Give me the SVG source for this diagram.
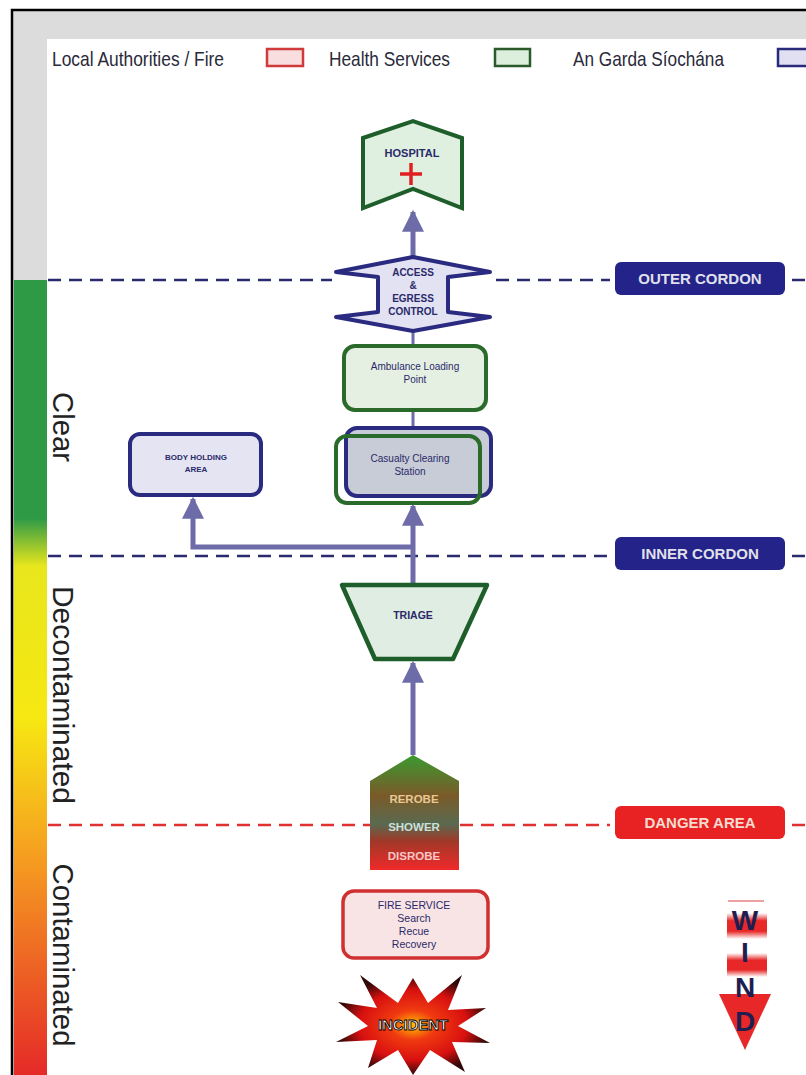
<svg xmlns="http://www.w3.org/2000/svg" width="806" height="1075" viewBox="0 0 806 1075">
<defs>
<style>
.t{font-family:"Liberation Sans",Arial,sans-serif;fill:#2a2a6a;font-weight:bold;text-anchor:middle}
.n{font-weight:normal}
.leg{font-family:"Liberation Sans",Arial,sans-serif;fill:#2a2a3a;font-size:21px}
.zone{font-family:"Liberation Sans",Arial,sans-serif;fill:#222;font-size:29px}
.lbl{font-family:"Liberation Sans",Arial,sans-serif;font-weight:bold;font-size:15px;text-anchor:middle}
.conn{stroke:#6d6ca8;stroke-width:5;fill:none}
.dash{stroke-width:2.5;stroke-dasharray:13 8;fill:none}
</style>
<marker id="ah" viewBox="0 0 10 10" refX="9" refY="5" markerWidth="4.4" markerHeight="4.4" orient="auto" markerUnits="strokeWidth">
<path d="M0,0 L10,5 L0,10 z" fill="#6d6ca8"/>
</marker>
<linearGradient id="bar" x1="0" y1="0" x2="0" y2="1">
<stop offset="0" stop-color="#2e9a46"/>
<stop offset="0.30" stop-color="#2e9a46"/>
<stop offset="0.36" stop-color="#e8e61c"/>
<stop offset="0.55" stop-color="#f6e812"/>
<stop offset="0.72" stop-color="#f6a020"/>
<stop offset="1" stop-color="#e52a28"/>
</linearGradient>
<linearGradient id="decon" x1="0" y1="0" x2="0" y2="1">
<stop offset="0" stop-color="#3a9a30"/>
<stop offset="0.35" stop-color="#7a5a28"/>
<stop offset="0.6" stop-color="#5a6a50"/>
<stop offset="0.75" stop-color="#a03828"/>
<stop offset="1" stop-color="#f02a2a"/>
</linearGradient>
<radialGradient id="burst" cx="0.5" cy="0.5" r="0.5">
<stop offset="0" stop-color="#ffc000"/>
<stop offset="0.3" stop-color="#f03a10"/>
<stop offset="0.7" stop-color="#d81010"/>
<stop offset="1" stop-color="#300808"/>
</radialGradient>
<linearGradient id="windbar" x1="0" y1="0" x2="0" y2="1">
<stop offset="0" stop-color="#ffffff"/>
<stop offset="0.3" stop-color="#e82828"/>
<stop offset="0.7" stop-color="#e82828"/>
<stop offset="1" stop-color="#ffffff"/>
</linearGradient>
</defs>

<!-- background / frame -->
<rect x="0" y="0" width="806" height="1075" fill="#ffffff"/>
<rect x="13" y="11" width="793" height="1064" fill="#dcdcdc"/>
<rect x="47" y="39" width="759" height="1036" fill="#ffffff"/>
<path d="M12,1075 V10 H806" stroke="#000" stroke-width="2.5" fill="none"/>
<rect x="14" y="280" width="33" height="795" fill="url(#bar)"/>

<!-- zone labels -->
<g id="zones">
<text class="zone" transform="translate(53,427) rotate(90)" text-anchor="middle" textLength="70" lengthAdjust="spacingAndGlyphs">Clear</text>
<text class="zone" transform="translate(53,695) rotate(90)" text-anchor="middle" textLength="218" lengthAdjust="spacingAndGlyphs">Decontaminated</text>
<text class="zone" transform="translate(53,955) rotate(90)" text-anchor="middle" textLength="183" lengthAdjust="spacingAndGlyphs">Contaminated</text>
</g>

<!-- legend -->
<g id="legend">
<text class="leg" x="52" y="66" textLength="172" lengthAdjust="spacingAndGlyphs">Local Authorities / Fire</text>
<rect x="267" y="49" width="36" height="17" fill="#f8dede" stroke="#d03a3a" stroke-width="2.5"/>
<text class="leg" x="329" y="66" textLength="121" lengthAdjust="spacingAndGlyphs">Health Services</text>
<rect x="495" y="49" width="35" height="17" fill="#dcefdc" stroke="#2a5a2a" stroke-width="2.5"/>
<text class="leg" x="573" y="66" textLength="151" lengthAdjust="spacingAndGlyphs">An Garda Síochána</text>
<rect x="778" y="49" width="40" height="17" fill="#e0e0f2" stroke="#2a2a7a" stroke-width="2.5"/>
</g>

<!-- cordon lines -->
<g id="cordons">
<path class="dash" stroke="#2a2a6e" d="M48,280 H332 M496,280 H610 M792,280 H806"/>
<path class="dash" stroke="#2a2a6e" d="M48,556 H610 M792,556 H806"/>
<path class="dash" stroke="#e03030" d="M48,825 H370 M460,825 H610 M792,825 H806"/>
</g>
<g id="outer-cordon">
<rect x="615" y="262" width="170" height="33" rx="6" fill="#23238a"/>
<text class="lbl" x="700" y="284" fill="#e0e0ea">OUTER CORDON</text>
</g>
<g id="inner-cordon">
<rect x="615" y="537" width="170" height="33" rx="6" fill="#23238a"/>
<text class="lbl" x="700" y="559" fill="#e0e0ea">INNER CORDON</text>
</g>
<g id="danger-area">
<rect x="615" y="806" width="170" height="33" rx="6" fill="#e82222"/>
<text class="lbl" x="700" y="828" fill="#f4dcd0">DANGER AREA</text>
</g>

<!-- connectors -->
<g id="connectors">
<line class="conn" x1="413" y1="258" x2="413" y2="212" marker-end="url(#ah)"/>
<line x1="413" y1="330" x2="413" y2="346" stroke="#6d6ca8" stroke-width="3"/>
<line x1="413" y1="410" x2="413" y2="428" stroke="#6d6ca8" stroke-width="3"/>
<line class="conn" x1="413" y1="585" x2="413" y2="506" marker-end="url(#ah)"/>
<polyline class="conn" points="413,547 193,547 193,499" marker-end="url(#ah)"/>
<line class="conn" x1="413" y1="755" x2="413" y2="663" marker-end="url(#ah)"/>
</g>

<!-- nodes -->
<g id="hospital">
<polygon points="363,138 413,121 462,138 462,208 413,189 363,208" fill="#dff0e0" stroke="#1e5e2a" stroke-width="4"/>
<text class="t" x="412" y="157" font-size="11">HOSPITAL</text>
<path d="M400,174 H422 M411,163 V185" stroke="#e02020" stroke-width="3.5"/>
</g>

<g id="access-control">
<polygon points="413,257 490,272 448,277 448,312 490,317 413,331 336,317 378,312 378,277 336,272" fill="#e2e2f2" stroke="#2a2a80" stroke-width="4" stroke-linejoin="round"/>
<text class="t" x="413" y="276" font-size="10">ACCESS</text>
<text class="t" x="413" y="289" font-size="10">&amp;</text>
<text class="t" x="413" y="302" font-size="10">EGRESS</text>
<text class="t" x="413" y="315" font-size="10">CONTROL</text>
</g>

<g id="ambulance-loading">
<rect x="344" y="346" width="142" height="64" rx="11" fill="#e5f0e3" stroke="#2a6a2a" stroke-width="4"/>
<text class="t n" x="415" y="370" font-size="10">Ambulance Loading</text>
<text class="t n" x="415" y="383" font-size="10">Point</text>
</g>

<g id="casualty-clearing">
<rect x="346" y="428" width="145" height="68" rx="11" fill="#c8ccd6" stroke="#2a2a80" stroke-width="4"/>
<rect x="336" y="436" width="144" height="67" rx="11" fill="none" stroke="#2a6a2a" stroke-width="4"/>
<text class="t n" x="410" y="462" font-size="10">Casualty Clearing</text>
<text class="t n" x="410" y="475" font-size="10">Station</text>
</g>

<g id="body-holding">
<rect x="130" y="434" width="131" height="61" rx="10" fill="#e4e4f2" stroke="#2a2a80" stroke-width="4"/>
<text class="t" x="196" y="460" font-size="8">BODY HOLDING</text>
<text class="t" x="196" y="472" font-size="8">AREA</text>
</g>

<g id="triage">
<polygon points="342,585 487,585 453,659 375,659" fill="#e0ede3" stroke="#1e5e2a" stroke-width="4.5" stroke-linejoin="round"/>
<text class="t" x="413" y="619" font-size="10.5">TRIAGE</text>
</g>

<g id="decontamination">
<polygon points="413,755 459,781 459,870 370,870 370,781" fill="url(#decon)"/>
<text class="t" x="414" y="803" font-size="11.5" style="fill:#e8c890">REROBE</text>
<text class="t" x="414" y="831" font-size="11.5" style="fill:#c8e0dc">SHOWER</text>
<text class="t" x="414" y="860" font-size="11.5" style="fill:#f8c8c8">DISROBE</text>
</g>

<g id="fire-service">
<rect x="343" y="891" width="145" height="67" rx="11" fill="#f8e4e4" stroke="#d03030" stroke-width="3.5"/>
<text class="t n" x="414" y="909" font-size="10.5">FIRE SERVICE</text>
<text class="t n" x="414" y="922" font-size="10.5">Search</text>
<text class="t n" x="414" y="935" font-size="10.5">Recue</text>
<text class="t n" x="414" y="948" font-size="10.5">Recovery</text>
</g>

<g id="incident">
<polygon points="413,978 428,1003 462,975 448,1010 486,1008 458,1026 490,1043 452,1042 465,1072 430,1050 413,1075 398,1050 368,1068 377,1040 336,1042 368,1026 338,1002 377,1008 360,975 398,1003" fill="url(#burst)"/>
<text x="413" y="1030" font-family="Liberation Sans, Arial, sans-serif" font-weight="bold" font-size="14" text-anchor="middle" fill="#ffffff" stroke="#000" stroke-width="0.8" textLength="70" lengthAdjust="spacingAndGlyphs">INCIDENT</text>
</g>

<g id="wind">
<line x1="728" y1="901" x2="764" y2="901" stroke="#e88080" stroke-width="1.5"/>
<rect x="727" y="913" width="40" height="26" fill="url(#windbar)"/>
<rect x="727" y="953" width="40" height="24" fill="url(#windbar)"/>
<polygon points="719,994 771,994 745,1050" fill="#e82828"/>
<g font-family="Liberation Sans, Arial, sans-serif" font-weight="bold" font-size="28" fill="#1e1e50" text-anchor="middle">
<text x="745" y="930">W</text>
<text x="745" y="962">I</text>
<text x="745" y="997">N</text>
<text x="745" y="1031">D</text>
</g>
</g>
</svg>
